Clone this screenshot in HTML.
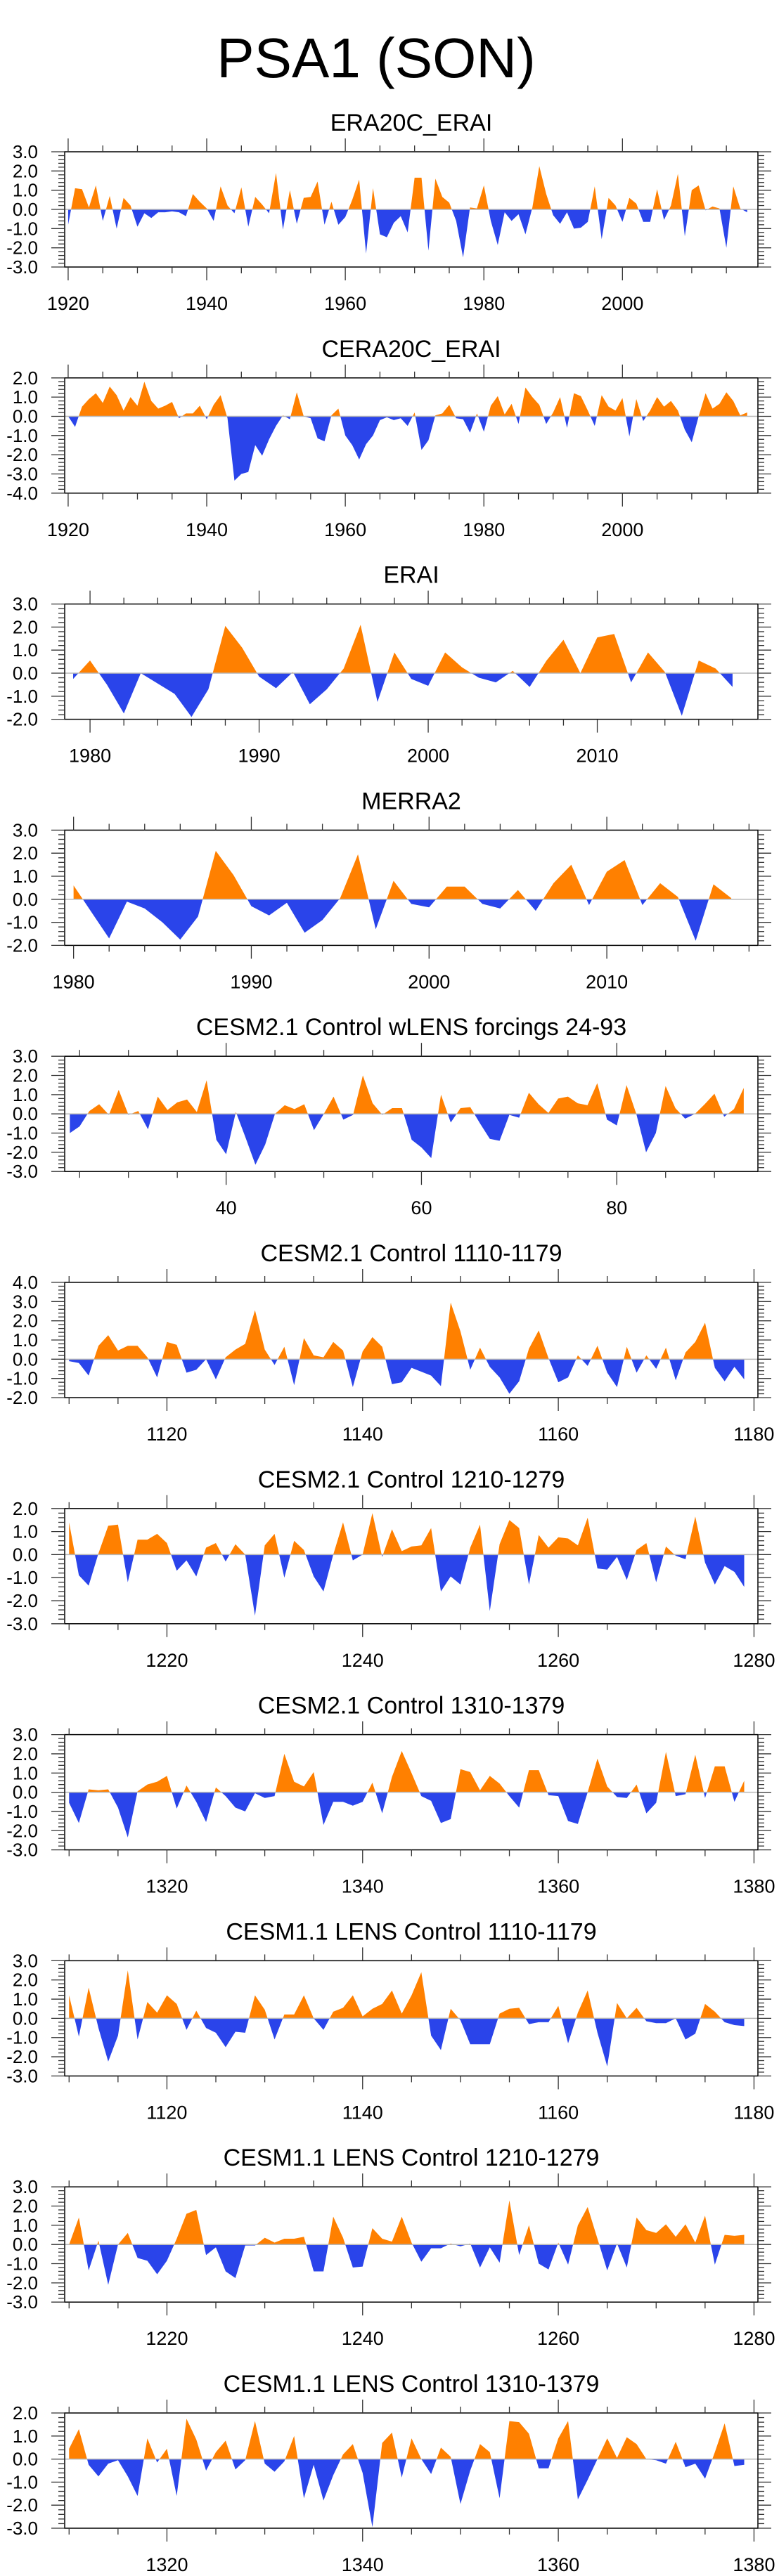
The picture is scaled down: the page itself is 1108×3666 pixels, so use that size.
<!DOCTYPE html>
<html><head><meta charset="utf-8"><title>PSA1 (SON)</title>
<style>
html,body{margin:0;padding:0;background:#fff;}
svg{display:block;font-family:"Liberation Sans",Arial,sans-serif;}
</style></head>
<body>
<svg id="fig" width="1108" height="3666" viewBox="0 0 1108 3666" xmlns="http://www.w3.org/2000/svg">
<text x="535" y="110" font-size="80" text-anchor="middle" fill="#000">PSA1 (SON)</text>
</svg>
<script>
// ---- data ----
const era20cStart = 1920;
const era20cValues = [-0.8,1.1,1.05,0.1,1.25,-0.6,0.7,-1.0,0.6,0.2,-0.9,-0.2,-0.45,-0.15,-0.15,-0.1,-0.15,-0.35,0.8,0.4,0.05,-0.6,1.2,0.2,-0.2,1.15,-0.9,0.65,0.25,-0.2,1.9,-1.05,1.0,-0.75,0.6,0.65,1.45,-0.8,0.4,-0.8,-0.4,0.5,1.55,-2.3,1.1,-1.3,-1.45,-0.7,-0.35,-1.2,1.65,1.65,-2.15,1.6,0.65,0.35,-0.6,-2.5,0.1,0.05,1.25,-0.6,-1.85,-0.15,-0.6,-0.25,-1.3,0.1,2.25,0.8,-0.3,-0.75,-0.15,-1.0,-0.95,-0.65,1.2,-1.55,0.6,0.2,-0.65,0.6,0.3,-0.65,-0.65,1.05,-0.55,0.2,1.85,-1.4,1.0,1.25,-0.05,0.15,0.05,-2.0,1.2,0.05,-0.15];
const era20cTicks = [1920,1940,1960,1980,2000];

const cera20cStart = 1920;
const cera20cValues = [0.0,-0.55,0.5,0.9,1.2,0.7,1.55,1.1,0.3,1.0,0.55,1.8,0.8,0.4,0.55,0.75,-0.1,0.15,0.15,0.55,-0.15,0.6,1.1,-0.1,-3.35,-3.0,-2.9,-1.5,-2.05,-1.2,-0.5,0.05,-0.15,1.25,0.0,-0.1,-1.15,-1.3,0.05,0.4,-1.0,-1.5,-2.25,-1.45,-1.0,-0.2,-0.05,-0.2,-0.1,-0.5,0.2,-1.75,-1.25,0.05,0.15,0.6,-0.1,-0.15,-0.85,0.15,-0.8,0.55,1.05,0.1,0.65,-0.4,1.5,1.0,0.6,-0.4,0.2,1.0,-0.6,1.2,1.05,0.3,-0.5,1.1,0.5,0.3,0.95,-1.05,0.9,-0.25,0.3,1.0,0.5,0.8,0.3,-0.7,-1.35,0.0,1.2,0.4,0.65,1.25,0.8,0.05,0.2];
const cera20cTicks = [1920,1940,1960,1980,2000];

const eraiStart = 1979;
const eraiValues = [-0.25,0.55,-0.5,-1.75,0.0,-0.45,-0.9,-1.9,-0.7,2.05,1.1,-0.15,-0.65,0.05,-1.35,-0.7,0.2,2.1,-1.25,0.9,-0.25,-0.55,0.9,0.25,-0.2,-0.4,0.1,-0.6,0.55,1.45,0.0,1.55,1.7,-0.4,0.9,0.05,-1.85,0.55,0.2,-0.6];
const eraiTicks = [1980,1990,2000,2010];

const merra2Start = 1980;
const merra2Values = [0.6,-0.55,-1.7,-0.1,-0.4,-1.0,-1.75,-0.75,2.1,1.05,-0.3,-0.7,-0.15,-1.45,-0.9,0.05,1.95,-1.3,0.8,-0.2,-0.35,0.55,0.55,-0.2,-0.4,0.4,-0.5,0.7,1.5,-0.25,1.2,1.7,-0.25,0.7,0.1,-1.8,0.65,0.05];
const merra2Ticks = [1980,1990,2000,2010];

const wlensStart = 24;
const wlensValues = [-1.0,-0.65,0.15,0.5,-0.05,1.25,-0.05,0.15,-0.8,0.9,0.2,0.6,0.75,0.1,1.75,-1.35,-2.1,0.1,-1.25,-2.65,-1.6,0.0,0.45,0.25,0.5,-0.85,0.0,0.9,-0.3,-0.05,2.0,0.55,-0.05,0.3,0.3,-1.35,-1.75,-2.3,1.0,-0.45,0.3,0.35,-0.5,-1.3,-1.4,-0.05,-0.2,1.1,0.5,0.05,0.8,0.9,0.55,0.45,1.6,-0.3,-0.6,1.5,0.0,-2.0,-1.0,1.45,0.3,-0.25,0.0,0.5,1.05,-0.15,0.25,1.35];
const wlensTicks = [40,60,80];

const c21a = [-0.1,-0.2,-0.85,0.7,1.25,0.45,0.7,0.7,0.1,-0.95,0.9,0.75,-0.7,-0.55,0.0,-1.05,0.1,0.5,0.8,2.55,0.5,-0.3,0.65,-1.35,1.1,0.2,0.1,0.9,0.45,-1.45,0.4,1.15,0.65,-1.3,-1.2,-0.45,-0.65,-0.85,-1.4,2.95,1.45,-0.55,0.6,-0.4,-0.95,-1.8,-1.15,0.55,1.5,0.05,-1.2,-0.95,0.2,-0.35,0.7,-0.7,-1.45,0.65,-0.7,0.2,-0.5,0.6,-1.1,0.35,0.9,1.9,-0.45,-1.15,-0.4,-1.05];
const c21b = [1.4,-0.9,-1.35,0.05,1.25,1.3,-1.2,0.65,0.65,0.9,0.5,-0.7,-0.25,-0.95,0.3,0.5,-0.3,0.45,0.0,-2.65,0.4,0.9,-1.0,0.6,0.2,-0.95,-1.6,0.0,1.4,-0.25,0.0,1.8,-0.1,1.1,0.15,0.35,0.4,1.15,-1.6,-0.95,-1.3,0.3,1.3,-2.45,0.45,1.5,1.15,-1.3,0.85,0.3,0.75,0.7,0.4,1.6,-0.6,-0.65,-0.1,-1.1,0.2,0.5,-1.2,0.35,-0.05,-0.2,1.65,-0.35,-1.3,-0.5,-0.75,-1.4];
const c21c = [-0.55,-1.6,0.15,0.1,0.15,-0.8,-2.35,0.05,0.4,0.55,0.85,-0.85,0.35,-0.5,-1.55,0.25,-0.2,-0.8,-1.0,-0.05,-0.3,-0.2,2.0,0.55,0.3,1.05,-1.7,-0.5,-0.5,-0.7,-0.5,0.5,-1.1,0.8,2.15,1.0,-0.2,-0.45,-1.6,-1.4,1.2,1.05,0.1,0.85,0.45,-0.2,-0.8,1.15,1.15,-0.15,-0.2,-1.5,-1.65,0.0,1.75,0.3,-0.25,-0.3,0.4,-1.1,-0.55,2.1,-0.2,-0.1,1.95,-0.3,1.35,1.35,-0.5,0.6];
const l11a = [1.2,-0.95,1.6,-0.5,-2.25,-0.9,2.5,-1.1,0.85,0.3,1.2,0.75,-0.6,0.4,-0.5,-0.75,-1.5,-0.7,-0.75,1.2,0.45,-1.1,0.2,0.2,1.2,0.0,-0.6,0.35,0.55,1.2,0.1,0.5,0.75,1.45,0.25,1.2,2.4,-0.9,-1.65,0.5,-0.1,-1.35,-1.35,-1.35,0.25,0.5,0.55,-0.3,-0.2,-0.2,0.65,-1.3,0.3,1.45,-0.75,-2.5,0.8,0.0,0.55,-0.15,-0.25,-0.25,0.0,-1.1,-0.8,0.75,0.35,-0.2,-0.35,-0.4];
const l11b = [0.0,1.4,-1.35,0.2,-2.1,0.0,0.6,-0.7,-0.85,-1.55,-0.85,0.3,1.6,1.8,-0.55,-0.15,-1.4,-1.75,-0.05,-0.05,0.35,0.1,0.3,0.3,0.4,-1.4,-1.4,1.45,0.35,-1.2,-1.15,0.85,0.3,0.15,1.45,0.1,-0.9,-0.2,-0.2,0.05,-0.1,0.05,-1.2,-0.15,-0.95,2.3,-0.55,1.0,-1.0,-1.3,0.1,-1.05,1.0,1.95,0.3,-1.35,0.05,-1.2,1.4,0.75,0.6,1.05,0.4,1.05,0.1,1.5,-1.05,0.5,0.45,0.5];
const l11c = [0.45,1.3,-0.25,-0.75,-0.2,-0.05,-0.75,-1.6,0.9,-0.15,0.45,-1.6,1.75,0.85,-0.5,0.3,0.8,-0.45,-0.05,1.65,-0.2,-0.55,-0.1,1.0,-1.7,-0.25,-1.8,-0.7,0.2,0.65,-0.6,-2.95,0.7,1.15,-0.8,0.9,0.0,-0.65,0.5,0.1,-1.95,-0.5,0.65,0.3,-1.7,1.65,1.6,1.1,-0.4,-0.4,0.9,1.65,-1.75,-0.9,0.0,0.9,0.05,0.95,0.65,0.0,-0.05,-0.2,0.75,-0.35,-0.2,-0.85,0.3,1.55,-0.3,-0.25];
const ticks1100 = [1120,1140,1160,1180];
const ticks1200 = [1220,1240,1260,1280];
const ticks1300 = [1320,1340,1360,1380];

// ---- drawing ----
const NS = "http://www.w3.org/2000/svg";
const svg = document.getElementById("fig");
const BX0 = 92, BX1 = 1078, BH = 164;
function mk(tag, attrs, parent) {
  const e = document.createElementNS(NS, tag);
  for (const k in attrs) e.setAttribute(k, attrs[k]);
  (parent || svg).appendChild(e);
  return e;
}
function drawPanel(idx, title, start, vals, xmin, xmax, ymin, ymax, labels, majorStep, minorStep) {
  const top = 216 + idx * 321.8;
  const bot = top + BH;
  const g = mk("g", {});
  
  
  const xs = v => BX0 + (v - xmin) / (xmax - xmin) * (BX1 - BX0);
  const ys = v => bot - (v - ymin) / (ymax - ymin) * BH;
  const t = mk("text", {x: 585, y: top - 30, "font-size": 34, "text-anchor": "middle", fill: "#000"}, g);
  t.textContent = title;
  
  
  // fills
  const y0 = ys(0);
  let d = "M" + xs(start).toFixed(2) + "," + y0.toFixed(2);
  vals.forEach((v, i) => { d += " L" + xs(start + i).toFixed(2) + "," + ys(v).toFixed(2); });
  d += " L" + xs(start + vals.length - 1).toFixed(2) + "," + y0.toFixed(2) + " Z";
  const cidA = "ca" + idx, cidB = "cb" + idx;
  const cpA = mk("clipPath", {id: cidA}, g);
  mk("rect", {x: BX0, y: top, width: BX1 - BX0, height: y0 - top}, cpA);
  const cpB = mk("clipPath", {id: cidB}, g);
  mk("rect", {x: BX0, y: y0, width: BX1 - BX0, height: bot - y0}, cpB);
  const pa = mk("path", {d: d, fill: "#ff8000", "clip-path": "url(#" + cidA + ")"}, g);
  
  
  const pb = mk("path", {d: d, fill: "#2a44ea", "clip-path": "url(#" + cidB + ")"}, g);
  
  
  const zl = mk("line", {x1: BX0, x2: BX1, y1: y0, y2: y0, stroke: "#b8b8b8", "stroke-width": 1.5}, g);
  
  
  // box
  const box = mk("rect", {x: BX0, y: top, width: BX1 - BX0, height: BH, fill: "none", stroke: "#000", "stroke-width": 1.5}, g);
  
  
  // x ticks
  const tk = mk("g", {stroke: "#333", "stroke-width": 1.3}, g);
  
  
  const firstMinor = Math.ceil(xmin / minorStep) * minorStep;
  for (let v = firstMinor; v <= xmax; v += minorStep) {
    const major = Math.abs(v / majorStep - Math.round(v / majorStep)) < 1e-6;
    const L = major ? 19 : 9;
    const x = xs(v);
    mk("line", {x1: x, x2: x, y1: top, y2: top - L}, tk);
    mk("line", {x1: x, x2: x, y1: bot, y2: bot + L}, tk);
  }
  labels.forEach(v => {
    const lt = mk("text", {x: xs(v), y: bot + 61, "font-size": 27, "text-anchor": "middle", fill: "#000"}, g);
    lt.textContent = String(v);
    
    
  });
  // y ticks
  const yt = mk("g", {stroke: "#333", "stroke-width": 1.3}, g);
  
  
  const n = Math.round((ymax - ymin) / 0.2);
  for (let i = 0; i <= n; i++) {
    const v = ymin + i * 0.2;
    const major = i % 5 === 0;
    const L = major ? 19 : 9;
    const y = ys(v);
    mk("line", {x1: BX0, x2: BX0 - L, y1: y, y2: y}, yt);
    mk("line", {x1: BX1, x2: BX1 + L, y1: y, y2: y}, yt);
    if (major) {
      const lt = mk("text", {x: 54, y: y + 9, "font-size": 26, "text-anchor": "end", fill: "#000"}, g);
      lt.textContent = (Math.round(v * 10) / 10).toFixed(1);
      
      
    }
  }
}
drawPanel(0, "ERA20C_ERAI", era20cStart, era20cValues, 1919.5, 2019.55, -3, 3, era20cTicks, 20, 5);
drawPanel(1, "CERA20C_ERAI", cera20cStart, cera20cValues, 1919.5, 2019.55, -4, 2, cera20cTicks, 20, 5);
drawPanel(2, "ERAI", eraiStart, eraiValues, 1978.5, 2019.5, -2, 3, eraiTicks, 10, 2);
drawPanel(3, "MERRA2", merra2Start, merra2Values, 1979.5, 2018.5, -2, 3, merra2Ticks, 10, 2);
drawPanel(4, "CESM2.1 Control wLENS forcings 24-93", wlensStart, wlensValues, 23.47, 94.45, -3, 3, wlensTicks, 20, 5);
drawPanel(5, "CESM2.1 Control 1110-1179", 1110, c21a, 1109.55, 1180.4, -2, 4, ticks1100, 20, 5);
drawPanel(6, "CESM2.1 Control 1210-1279", 1210, c21b, 1209.55, 1280.4, -3, 2, ticks1200, 20, 5);
drawPanel(7, "CESM2.1 Control 1310-1379", 1310, c21c, 1309.55, 1380.4, -3, 3, ticks1300, 20, 5);
drawPanel(8, "CESM1.1 LENS Control 1110-1179", 1110, l11a, 1109.55, 1180.4, -3, 3, ticks1100, 20, 5);
drawPanel(9, "CESM1.1 LENS Control 1210-1279", 1210, l11b, 1209.55, 1280.4, -3, 3, ticks1200, 20, 5);
drawPanel(10, "CESM1.1 LENS Control 1310-1379", 1310, l11c, 1309.55, 1380.4, -3, 2, ticks1300, 20, 5);
</script>
</body></html>
